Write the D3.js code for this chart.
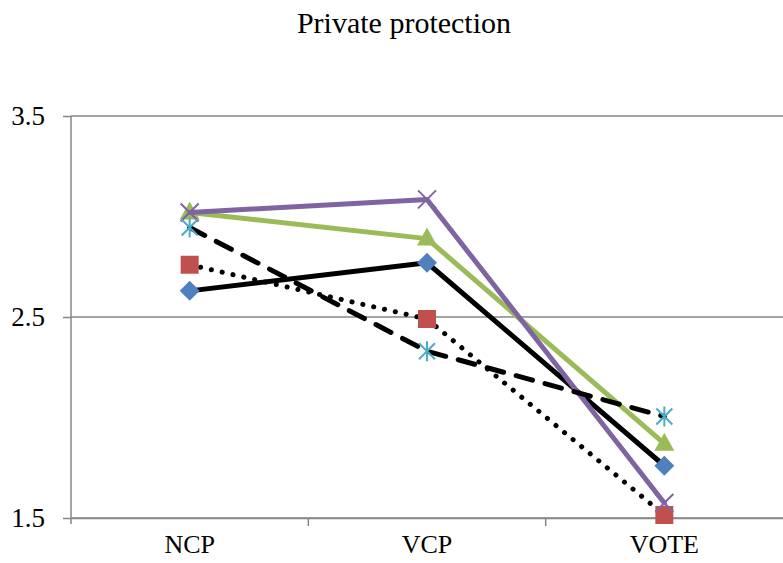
<!DOCTYPE html>
<html>
<head>
<meta charset="utf-8">
<script src="https://cdn.jsdelivr.net/npm/d3@7"></script>
<style>
  body { margin: 0; background: #fff; }
  text { font-family: "Liberation Serif", "Times New Roman", serif; fill: #000; }
</style>
</head>
<body>
<svg id="chart"></svg>
<script>
var categories = ["NCP", "VCP", "VOTE"];
var yTicks = [1.5, 2.5, 3.5];
var seriesDiamond = [2.63, 2.77, 1.76];
var seriesSquare = [2.76, 2.49, 1.515];
var seriesTriangle = [3.02, 2.89, 1.87];
var seriesCross = [3.02, 3.085, 1.575];
var seriesStar = [2.945, 2.33, 2.005];

var series = [
    {values: seriesDiamond, stroke: "#000", dash: null, marker: "diamond", color: "#4F81BD"},
    {values: seriesSquare, stroke: "#000", dash: "0.1 11", marker: "square", color: "#C0504D"},
    {values: seriesTriangle, stroke: "#9BBB59", dash: null, marker: "triangle", color: "#9BBB59"},
    {values: seriesCross, stroke: "#8064A2", dash: null, marker: "cross", color: "#8064A2"},
    {values: seriesStar, stroke: "#000", dash: "17 13", marker: "star", color: "#4BACC6"}
];

var margin = {top: 116, right: 0, bottom: 45, left: 71},
    width = 783 - margin.left - margin.right,
    height = 563 - margin.top - margin.bottom;

var root = d3.select("#chart")
    .attr("width", 783)
    .attr("height", 563);

root.append("text")
    .attr("x", 404)
    .attr("y", 33)
    .attr("text-anchor", "middle")
    .attr("font-size", "30px")
    .text("Private protection");

var svg = root.append("g")
    .attr("transform", "translate(" + margin.left + "," + margin.top + ")");

var x = d3.scaleBand()
    .domain(categories)
    .range([0, width]);

var y = d3.scaleLinear()
    .domain([1.5, 3.5])
    .range([height, 0]);

// gridlines
svg.selectAll(".grid")
    .data(yTicks)
    .enter().append("line")
    .attr("x1", 0)
    .attr("x2", width)
    .attr("y1", function(d) { return y(d); })
    .attr("y2", function(d) { return y(d); })
    .attr("stroke", "#868686")
    .attr("stroke-width", 1.5);

// y axis
var yAxis = svg.append("g")
    .call(d3.axisLeft(y).tickValues(yTicks).tickSize(8).tickPadding(18).tickFormat(d3.format(".1f")));
yAxis.selectAll("line").attr("stroke", "#868686").attr("stroke-width", 1.5);
yAxis.select(".domain").attr("stroke", "#868686").attr("stroke-width", 1.5).attr("d", "M0," + (height + 6) + "V0");
yAxis.selectAll("text").attr("font-size", "27px").attr("font-family", "Liberation Serif, serif").attr("fill", "#000");

// x axis
var xAxis = svg.append("g")
    .attr("transform", "translate(0," + height + ")")
    .call(d3.axisBottom(x).tickSize(0).tickPadding(17));
xAxis.select(".domain").attr("stroke", "#868686").attr("stroke-width", 1.5);
xAxis.selectAll("text").attr("font-size", "26px").attr("font-family", "Liberation Serif, serif").attr("fill", "#000");
xAxis.selectAll(".sep")
    .data(categories.slice(1))
    .enter().append("line")
    .attr("x1", function(d) { return x(d); })
    .attr("x2", function(d) { return x(d); })
    .attr("y1", 0)
    .attr("y2", 8)
    .attr("stroke", "#868686")
    .attr("stroke-width", 1.5);

var line = d3.line()
    .x(function(d, i) { return x(categories[i]) + x.bandwidth() / 2; })
    .y(function(d) { return y(d); });

var markerPaths = {
    diamond: "M0,-10L10,0L0,10L-10,0Z",
    square: "M-9,-9H9V9H-9Z",
    triangle: "M0,-11L10,7H-10Z"
};

series.forEach(function(s) {
    svg.append("path")
        .datum(s.values)
        .attr("fill", "none")
        .attr("stroke", s.stroke)
        .attr("stroke-width", 5)
        .attr("stroke-linejoin", "round")
        .attr("stroke-linecap", "round")
        .attr("stroke-dasharray", s.dash)
        .attr("d", line);

    var g = svg.append("g");
    var pts = g.selectAll("g")
        .data(s.values)
        .enter().append("g")
        .attr("transform", function(d, i) {
            return "translate(" + (x(categories[i]) + x.bandwidth() / 2) + "," + y(d) + ")";
        });

    if (markerPaths[s.marker]) {
        pts.append("path")
            .attr("d", markerPaths[s.marker])
            .attr("fill", s.color);
    } else if (s.marker == "cross") {
        pts.append("path")
            .attr("d", "M-9,-9L9,9M-9,9L9,-9")
            .attr("stroke", s.color)
            .attr("stroke-width", 2);
    } else {
        pts.append("path")
            .attr("d", "M-8,-8L8,8M-8,8L8,-8M0,-10V10")
            .attr("stroke", s.color)
            .attr("stroke-width", 2);
    }
});
</script>
</body>
</html>
